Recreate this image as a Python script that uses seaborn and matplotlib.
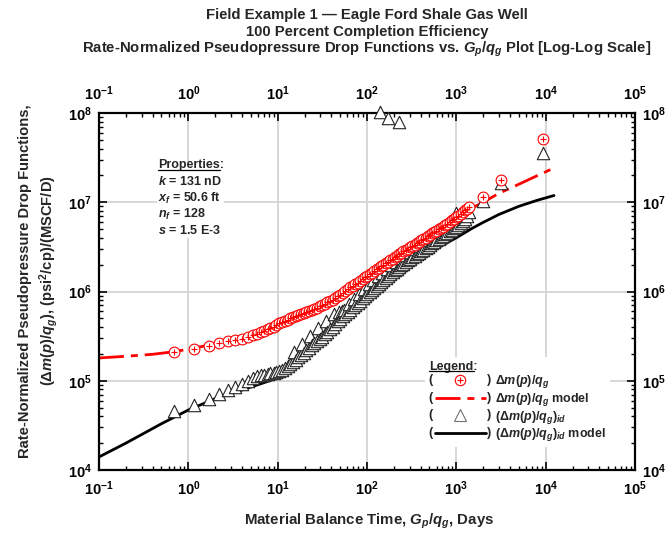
import numpy as np
import pandas as pd
import matplotlib
matplotlib.use("Agg")
import matplotlib.pyplot as plt
import seaborn as sns
from matplotlib.lines import Line2D
from matplotlib.text import Text
from matplotlib.legend_handler import HandlerBase
from matplotlib.patches import Rectangle
from matplotlib.ticker import LogLocator, LogFormatterSciNotation, NullFormatter

# ---------------- data ----------------
t_mb = [0.69, 1.16, 1.71, 2.2, 2.8, 3.3, 4.0, 4.6, 5.3, 5.9, 6.5, 7.1, 7.7, 8.3, 9.0, 9.7,
        10.4, 11.2, 12.0, 12.9, 13.8, 14.8, 15.9, 17.0, 18.2, 19.5, 20.9, 22.4, 24.0, 25.7,
        27.5, 29.4, 31.5, 33.7, 36.0, 38.5, 41.2, 44.0, 47.0, 50.2, 53.6, 57.2, 61.0, 65.0,
        69.3, 73.8, 78.6, 83.7, 89.1, 94.8, 101, 107, 114, 121, 128, 136, 144, 153, 162,
        172, 182, 193, 204, 216, 229, 242, 256, 271, 287, 304, 322, 341, 361, 382, 404, 427,
        452, 478, 506, 535, 566, 599, 634, 671, 710, 751, 795, 841, 890, 942, 997, 1055,
        1116, 1181, 1250, 1320, 1400]

dmp_e5 = [2.08, 2.27, 2.45, 2.68, 2.78, 2.86, 2.96, 3.10, 3.25, 3.38, 3.50, 3.62, 3.76, 3.90,
          4.05, 4.22, 4.38, 4.55, 4.70, 4.85, 5.00, 5.12, 5.25, 5.40, 5.55, 5.70, 5.85, 6.02,
          6.20, 6.40, 6.60, 6.82, 7.05, 7.30, 7.55, 7.80, 8.10, 8.45, 8.85, 9.2, 9.6, 10.1,
          10.6, 11.1, 11.6, 12.1, 12.6, 13.2, 13.8, 14.4, 15.0, 15.6, 16.3, 17.0, 17.7, 18.4,
          19.1, 19.9, 20.7, 21.5, 22.4, 23.3, 24.2, 25.1, 26.1, 27.1, 28.1, 29.1, 30.1, 31.2,
          32.4, 33.6, 34.8, 36.0, 37.3, 38.7, 40.1, 41.6, 43.1, 44.7, 46.3, 48.0, 49.7, 51.5,
          53.3, 55.2, 57.2, 60.0, 62.5, 65.0, 68.0, 71.0, 74.0, 77.5, 81.0, 85.0, 89.0]

dmp_id_e5 = [0.46, 0.53, 0.625, 0.71, 0.79, 0.85, 0.92, 1.00, 1.07, 1.12, 1.15, 1.17, 1.19,
             1.21, 1.23, 1.25, 1.28, 1.33, 1.39, 1.46, 1.54, 1.63, 1.73, 1.84, 1.95, 2.07,
             2.20, 2.34, 2.49, 2.64, 2.80, 2.96, 3.13, 3.31, 3.50, 3.78, 4.05, 4.35, 4.65,
             4.95, 5.25, 5.55, 5.90, 6.25, 6.65, 7.05, 7.45, 7.90, 8.40, 8.90, 9.40, 9.90,
             10.5, 11.0, 11.6, 12.2, 12.8, 13.5, 14.2, 14.9, 15.6, 16.4, 17.2, 18.0, 18.8,
             19.6, 20.5, 21.4, 22.3, 23.2, 24.2, 25.2, 26.2, 27.3, 28.4, 29.5, 30.7, 31.9,
             33.2, 34.5, 35.9, 37.3, 38.8, 40.3, 41.9, 43.6, 45.3, 47.1, 49.0, 51.0, 53.2,
             55.6, 58.4, 61.6, 65.5, 70.5, 78.0]

# upper scatter layer of the (dm/q)_id band
id_upper_t = [15.3, 18.8, 23.2, 28.4, 34.8, 42.6, 48.5, 52, 55.4, 63, 71.5, 81, 92, 104, 117,
              132, 148, 167, 188, 210, 236, 264, 295, 331, 371, 415, 465, 520, 582, 652, 730,
              818, 916, 1026, 1150]
id_upper_e5 = [2.1, 2.6, 3.2, 3.9, 4.7, 5.6, 5.9, 6.1, 6.2, 7.3, 8.2, 9.3, 10.6, 12.0, 13.3,
               14.8, 16.3, 18.0, 19.8, 21.6, 23.5, 25.6, 27.8, 30.0, 32.4, 35.0, 37.5, 40.3,
               43.2, 46.5, 50.0, 54.0, 60.0, 66.0, 70.0]

# late-time / scattered points
dmp_extra_t = [2000, 3200, 9400]
dmp_extra_e5 = [115, 178, 510]
id_extra_t = [140, 172, 229, 980, 2000, 3200, 9400]
id_extra_e5 = [1020, 880, 800, 76, 103, 164, 360]

# model curves
model_t = [0.1, 0.2, 0.4, 0.6, 1, 2, 3, 5, 10, 20, 30, 50, 100, 200, 300, 500, 1000,
           2000, 3000, 5000, 8000, 12400]
model_dmp = [1.80e5, 1.88e5, 1.98e5, 2.08e5, 2.25e5, 2.60e5, 2.85e5, 3.3e5, 4.4e5, 5.8e5,
             7.0e5, 9.1e5, 1.45e6, 2.3e6, 3.0e6, 4.3e6, 7.0e6, 1.0e7, 1.26e7, 1.59e7,
             1.98e7, 2.42e7]
model_id_t = [0.1, 0.2, 0.5, 1, 2, 3.2, 5, 7, 10, 14, 20, 30, 50, 100, 140, 200, 330, 500,
              700, 1000, 1500, 2000, 3000, 5000, 8000, 12400]
model_id = [1.40e4, 2.0e4, 3.3e4, 4.7e4, 6.3e4, 7.3e4, 8.5e4, 9.5e4, 1.08e5, 1.45e5, 2.0e5,
            2.8e5, 4.3e5, 7.6e5, 1.0e6, 1.35e6, 2.0e6, 2.7e6, 3.3e6, 4.0e6, 5.1e6, 5.95e6,
            7.3e6, 9.0e6, 1.05e7, 1.19e7]

props = ["$k$ = 131 nD", "$x_f$ = 50.6 ft", "$n_f$ = 128", "$s$ = 1.5 E-3"]

# ---------------- style ----------------
sns.set_theme(style="ticks")
plt.rcParams["font.family"] = ["Liberation Sans", "DejaVu Sans"]
plt.rcParams["font.weight"] = "bold"
plt.rcParams["mathtext.fontset"] = "custom"
plt.rcParams["mathtext.rm"] = "Liberation Sans:bold"
plt.rcParams["mathtext.it"] = "Liberation Sans:italic:bold"
plt.rcParams["mathtext.bf"] = "Liberation Sans:bold"
plt.rcParams["mathtext.sf"] = "Liberation Sans:bold"
plt.rcParams["axes.unicode_minus"] = False

W, H = 667, 535
fig = plt.figure(figsize=(W / 100, H / 100), dpi=100)
ax = fig.add_axes([99 / W, 1 - 470 / H, (635 - 99) / W, (470 - 113) / H])
ax.set_xscale("log")
ax.set_yscale("log")

df_pts = pd.DataFrame({"t": np.array(t_mb + dmp_extra_t, float),
                       "dmp": np.array(dmp_e5 + dmp_extra_e5) * 1e5})
df_id = pd.DataFrame({"t": np.array(t_mb + id_upper_t + id_extra_t, float),
                      "dmp": np.array(dmp_id_e5 + id_upper_e5 + id_extra_e5) * 1e5})
df_id = df_id.sort_values("t")
df_m1 = pd.DataFrame({"t": model_t, "v": model_dmp})
df_m2 = pd.DataFrame({"t": model_id_t, "v": model_id})

red_dash = (0, (9, 2.5, 2.5, 2.5))
sns.lineplot(data=df_m1, x="t", y="v", color="red", lw=2.0, linestyle=red_dash,
             ax=ax, zorder=2)
sns.lineplot(data=df_m2, x="t", y="v", color="black", lw=2.0, ax=ax, zorder=2)

sns.scatterplot(data=df_id, x="t", y="dmp", marker="^", s=80, color="white",
                edgecolor="#222222", linewidth=0.8, ax=ax, zorder=3)
sns.scatterplot(data=df_pts, x="t", y="dmp", marker="o", s=60, color="white",
                edgecolor="red", linewidth=0.8, ax=ax, zorder=4)
sns.scatterplot(data=df_pts, x="t", y="dmp", marker="+", s=16, color="red",
                linewidth=0.8, ax=ax, zorder=5)
for c in ax.collections:
    c.set_clip_on(False)

ax.set_xlim(1e-1, 1e5)
ax.set_ylim(1e4, 1e8)
ax.set_xlabel("")
ax.set_ylabel("")

for axis in (ax.xaxis, ax.yaxis):
    axis.set_major_locator(LogLocator(base=10, numticks=20))
    axis.set_minor_locator(LogLocator(base=10, subs=np.arange(2, 10), numticks=100))
    axis.set_major_formatter(LogFormatterSciNotation())
    axis.set_minor_formatter(NullFormatter())

ax.grid(True, which="major", color="#d4d4d4", lw=1.3)
ax.set_axisbelow(True)
ax.tick_params(which="both", direction="in", top=True, right=True,
               labeltop=True, labelright=True, colors="black")
ax.tick_params(which="major", length=6, width=1.2, labelsize=10.5)
ax.tick_params(which="minor", length=3, width=1.0)
ax.tick_params(axis="x", pad=7)
ax.tick_params(axis="y", pad=5)
for sp in ax.spines.values():
    sp.set_linewidth(1.6)
    sp.set_color("black")
for lab in ax.get_xticklabels() + ax.get_yticklabels():
    lab.set_fontweight("bold")

# ---------------- titles and labels ----------------
tx = 367 / W
tfs = 10.7
fig.text(tx, 1 - 15 / H, "Field Example 1 \u2014 Eagle Ford Shale Gas Well", ha="center",
         va="center", fontsize=tfs, fontweight="bold")
fig.text(tx, 1 - 32 / H, "100 Percent Completion Efficiency", ha="center", va="center",
         fontsize=tfs, fontweight="bold")
fig.text(tx, 1 - 49 / H,
         "Rate-Normalized Pseudopressure Drop Functions vs. $G_p/q_g$ Plot [Log-Log Scale]",
         ha="center", va="center", fontsize=tfs, fontweight="bold")
fig.text(369 / W, 1 - 521 / H, "Material Balance Time, $G_p/q_g$, Days", ha="center",
         va="center", fontsize=10.8, fontweight="bold")
fig.text(39 / W, 1 - 281 / H,
         "Rate-Normalized Pseudopressure Drop Functions,\n"
         "(\u0394$m(p)/q_g$), (psi$^2$/cp)/(MSCF/D)",
         ha="center", va="center", rotation=90, fontsize=10.6, fontweight="bold",
         multialignment="center", linespacing=1.35)

# ---------------- properties box ----------------
ax.add_patch(Rectangle((0.108, 0.650), 0.125, 0.213, transform=ax.transAxes,
                       facecolor="white", edgecolor="none", zorder=1.5))
ptitle = ax.text(0.110, 0.853, "Properties:", transform=ax.transAxes, ha="left",
                 va="center", fontsize=9, fontweight="bold", zorder=6)
for i, s in enumerate(props):
    ax.text(0.110, 0.853 - 0.0455 * (i + 1), s, transform=ax.transAxes, ha="left",
            va="center", fontsize=9, fontweight="bold", zorder=6)


# ---------------- legend ----------------
class ParenHandler(HandlerBase):
    def __init__(self, kind):
        super().__init__()
        self.kind = kind

    def create_artists(self, legend, orig_handle, xdescent, ydescent, width, height,
                       fontsize, trans):
        y = height / 2 - ydescent
        x0 = -xdescent
        x1 = x0 + width
        xm = (x0 + x1) / 2
        arts = []
        if self.kind == "circle":
            arts.append(Line2D([xm], [y], marker="o", ms=7.5, mfc="white", mec="red",
                               mew=0.8, ls="none", transform=trans))
            arts.append(Line2D([xm], [y], marker="+", ms=4, mec="red", mew=0.8,
                               ls="none", transform=trans))
        elif self.kind == "redline":
            arts.append(Line2D([x0 + 0.1 * width, x1 - 0.08 * width], [y, y], color="red",
                               lw=2.0, ls=red_dash, transform=trans))
        elif self.kind == "tri":
            arts.append(Line2D([xm], [y], marker="^", ms=8, mfc="white", mec="#707070",
                               mew=0.8, ls="none", transform=trans))
        else:
            arts.append(Line2D([x0 + 0.1 * width, x1 - 0.08 * width], [y, y],
                               color="black", lw=2.0, transform=trans))
        fp = dict(fontsize=fontsize, fontweight="bold", va="center", transform=trans)
        arts.append(Text(x0, y, "(", ha="left", **fp))
        arts.append(Text(x1, y, ")", ha="right", **fp))
        return arts


hs = [Line2D([], []) for _ in range(4)]
kinds = ["circle", "redline", "tri", "blackline"]
labels = ["\u0394$m(p)/q_g$", "\u0394$m(p)/q_g$ model", "(\u0394$m(p)/q_g)_{id}$",
          "(\u0394$m(p)/q_g)_{id}$ model"]
leg = ax.legend(hs, labels, handler_map={h: ParenHandler(k) for h, k in zip(hs, kinds)},
                loc="upper left", bbox_to_anchor=((425 - 99) / 536, (470 - 357) / 357),
                borderaxespad=0, borderpad=0.3, frameon=True, fancybox=False,
                framealpha=1, facecolor="white", edgecolor="none",
                prop={"size": 9, "weight": "bold"}, title="Legend:",
                title_fontproperties={"size": 9, "weight": "bold"}, alignment="left",
                handlelength=5.0, handletextpad=0.3, labelspacing=0.05, handleheight=0.9)
leg.set_zorder(7)

# ---------------- underlines ----------------
fig.canvas.draw()
r = fig.canvas.get_renderer()
inv = fig.transFigure.inverted()
for t in (ptitle, leg.get_title()):
    bb = t.get_window_extent(r)
    x0, x1 = bb.x0 + 0.5, bb.x1 - 3.5
    yy = bb.y0 + 1.8
    (fx0, fy), (fx1, _) = inv.transform([(x0, yy), (x1, yy)])
    fig.add_artist(Line2D([fx0, fx1], [fy, fy], color="black", lw=0.9, zorder=10))

fig.savefig("out.png", dpi=100)
